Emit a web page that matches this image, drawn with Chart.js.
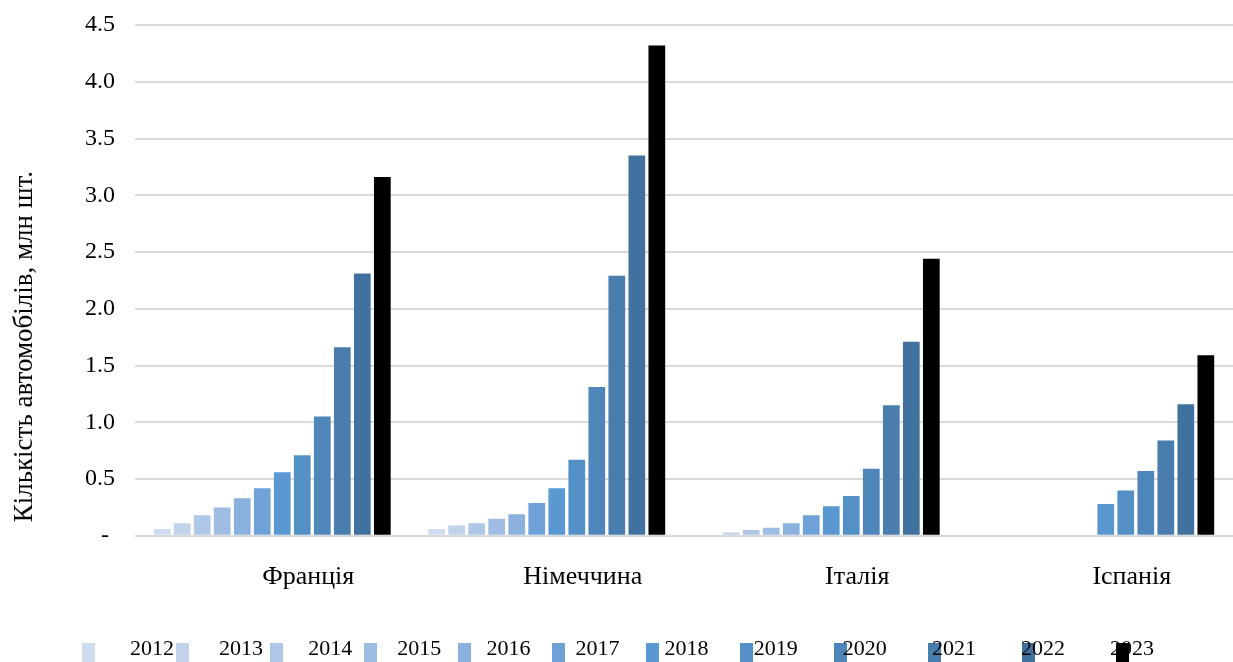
<!DOCTYPE html>
<html>
<head>
<meta charset="utf-8">
<title>Кількість автомобілів</title>
<script src="https://cdn.jsdelivr.net/npm/chart.js@4.4.1/dist/chart.umd.min.js"></script>
<style>
  html, body { margin: 0; padding: 0; background: #ffffff; }
  #wrap { width: 1233px; height: 662px; position: relative; }
</style>
</head>
<body>
<div id="wrap"><canvas id="chart"></canvas></div>
<script>
// Countries on the category axis
const countries = ['Франція', 'Німеччина', 'Італія', 'Іспанія'];

// Years shown as separate series
const years = ['2012', '2013', '2014', '2015', '2016', '2017', '2018', '2019', '2020', '2021', '2022', '2023'];

// Values per year, millions of cars, in country order
const v2012 = [0.06, 0.06, null, null];
const v2013 = [0.11, 0.09, 0.03, null];
const v2014 = [0.18, 0.11, 0.05, null];
const v2015 = [0.25, 0.15, 0.07, null];
const v2016 = [0.33, 0.19, 0.11, null];
const v2017 = [0.42, 0.29, 0.18, null];
const v2018 = [0.56, 0.42, 0.26, 0.28];
const v2019 = [0.71, 0.67, 0.35, 0.40];
const v2020 = [1.05, 1.31, 0.59, 0.57];
const v2021 = [1.66, 2.29, 1.15, 0.84];
const v2022 = [2.31, 3.35, 1.71, 1.16];
const v2023 = [3.16, 4.32, 2.44, 1.59];

const seriesValues = [v2012, v2013, v2014, v2015, v2016, v2017, v2018, v2019, v2020, v2021, v2022, v2023];

// Fill colour for each year, light blue through dark blue, last year black
const yearColors = ['#cfdbee', '#c1d3eb', '#afc8e8', '#9fbce2', '#8ab0dd', '#6fa3d7',
                    '#5a98d1', '#5390c6', '#4e86ba', '#497dae', '#41729f', '#000000'];

// Value axis ticks
const yTicks = [0, 0.5, 1.0, 1.5, 2.0, 2.5, 3.0, 3.5, 4.0, 4.5];

const axisTitle = 'Кількість автомобілів, млн шт.';
const FONT = '"Liberation Serif", "Times New Roman", serif';

const datasets = years.map((y, i) => ({
  label: y,
  data: seriesValues[i],
  backgroundColor: yearColors[i],
  borderWidth: 0,
  categoryPercentage: 0.875,
  barPercentage: 0.835
}));

// Legend row along the bottom edge: swatches first, year labels on top
const bottomLegend = {
  id: 'bottomLegend',
  afterDraw(chart) {
    const ctx = chart.ctx;
    const items = chart.data.datasets;
    ctx.save();
    items.forEach((ds, i) => {
      ctx.fillStyle = ds.backgroundColor;
      ctx.fillRect(82 + i * 94.0, 643, 13, 22);
    });
    ctx.fillStyle = '#000000';
    ctx.font = '22px ' + FONT;
    ctx.textAlign = 'left';
    ctx.textBaseline = 'alphabetic';
    items.forEach((ds, i) => {
      ctx.fillText(ds.label, 130 + i * 89.1, 655);
    });
    ctx.restore();
  }
};

Chart.defaults.font.family = FONT;
Chart.defaults.color = '#000000';

new Chart(document.getElementById('chart'), {
  type: 'bar',
  data: { labels: countries, datasets: datasets },
  options: {
    responsive: true,
    maintainAspectRatio: false,
    animation: false,
    layout: { padding: { top: 25, right: 0, bottom: 43, left: 0 } },
    plugins: {
      legend: { display: false },
      tooltip: { enabled: false }
    },
    scales: {
      x: {
        grid: { display: false, drawTicks: false },
        border: { display: false },
        ticks: {
          font: { size: 26 },
          padding: 26,
          labelOffset: 36,
          maxRotation: 0,
          autoSkip: false
        },
        afterFit(scale) { scale.paddingLeft = 0; scale.paddingRight = 0; }
      },
      y: {
        min: yTicks[0],
        max: yTicks[yTicks.length - 1],
        afterBuildTicks(scale) {
          scale.ticks = yTicks.map(v => ({ value: v }));
        },
        afterFit(scale) {
          scale.width = 135;
          scale.paddingTop = 0;
          scale.paddingBottom = 0;
        },
        grid: { color: '#d9d9d9', lineWidth: 2, drawTicks: false, tickLength: 0 },
        border: { display: false },
        ticks: {
          font: { size: 24 },
          padding: 20,
          callback: v => (v === 0 ? '- ' : v.toFixed(1))
        },
        title: {
          display: true,
          text: '  ' + axisTitle,
          align: 'start',
          font: { size: 27 },
          padding: { top: 9, bottom: 4 }
        }
      }
    }
  },
  plugins: [bottomLegend]
});
</script>
</body>
</html>
